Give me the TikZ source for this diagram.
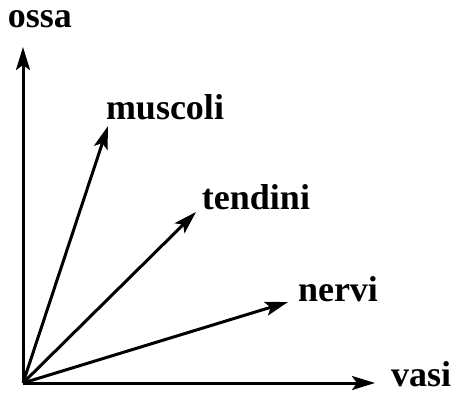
\documentclass[tikz,border=0pt]{standalone}
\usepackage{fontspec}
\setmainfont{Liberation Serif}
\usetikzlibrary{arrows.meta}
\begin{document}
\begin{tikzpicture}[x=1pt,y=-1pt,
  vec/.style={line width=3pt,-{Stealth[length=23pt,width=14pt,inset=5pt]}},
  lbl/.style={font=\fontsize{36}{40}\selectfont\bfseries,inner sep=0pt}]
\useasboundingbox (0,0) rectangle (465,394);
\coordinate (O) at (23,383);
\coordinate (ty) at (23,47);
\coordinate (tx) at (375,383);
\coordinate (tm) at (108,126);
\coordinate (tt) at (196,212);
\coordinate (tn) at (288,302);
\node[lbl] (ossa) at (40,19) {ossa};
\node[lbl] (vasi) at (421,374) {vasi};
\node[lbl] (muscoli) at (165,107) {muscoli};
\node[lbl] (tendini) at (256,197) {tendini};
\node[lbl] (nervi) at (338,289) {nervi};
\draw[vec] (O) -- (ty);
\draw[vec] (O) -- (tx);
\draw[vec] (O) -- (tm);
\draw[vec] (O) -- (tt);
\draw[vec] (O) -- (tn);
\end{tikzpicture}
\end{document}
